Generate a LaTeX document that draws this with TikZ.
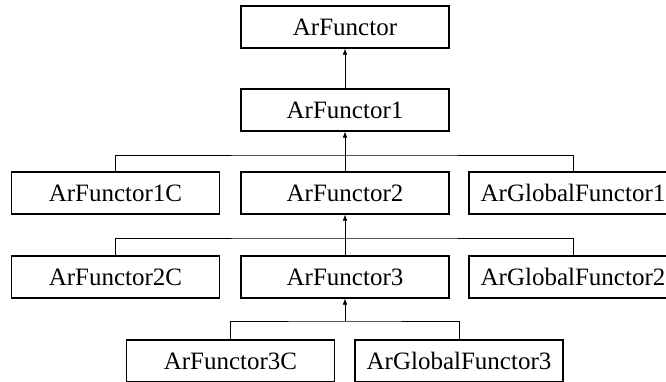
\documentclass[tikz,border=0pt]{standalone}
\usepackage{fontspec}
\setmainfont{Liberation Serif}
\usetikzlibrary{arrows.meta}

\begin{document}
\begin{tikzpicture}[x=1pt,y=-1pt,
    cls/.style={draw, line width=1.1pt, minimum width=208pt, minimum height=42pt,
                inner sep=0pt, font=\fontsize{25}{29}\selectfont},
    inherit/.style={-{Latex[length=6pt,width=4.5pt]}, line width=0.6pt},
    branch/.style={line width=0.6pt}]
    % Define the page
    \useasboundingbox (0,0) rectangle (666,381);

    % Define Coordinates
    \coordinate (busA) at (345,155);   % bus under ArFunctor1
    \coordinate (busB) at (345,238);   % bus under ArFunctor2
    \coordinate (busC) at (345,321);   % bus under ArFunctor3

    % 1. Draw the Classes
    \node[cls] (base) at (345,27)    {ArFunctor};
    \node[cls] (f1)   at (345,110)   {ArFunctor1};
    \node[cls] (f1c)  at (115.5,193) {ArFunctor1C};
    \node[cls] (f2)   at (345,193)   {ArFunctor2};
    \node[cls] (gf1)  at (573,193)   {ArGlobalFunctor1};
    \node[cls] (f2c)  at (115.5,277) {ArFunctor2C};
    \node[cls] (f3)   at (345,277)   {ArFunctor3};
    \node[cls] (gf2)  at (573,277)   {ArGlobalFunctor2};
    \node[cls] (f3c)  at (230.5,361) {ArFunctor3C};
    \node[cls] (gf3)  at (459,361)   {ArGlobalFunctor3};

    % 2. Draw the Inheritance
    \draw[inherit] (f1.north) -- (base.south);

    \draw[branch] (f1c.north) |- (busA) -| (gf1.north);
    \draw[inherit] (f2.north) -- (f1.south);

    \draw[branch] (f2c.north) |- (busB) -| (gf2.north);
    \draw[inherit] (f3.north) -- (f2.south);

    \draw[branch] (f3c.north) |- (busC) -| (gf3.north);
    \draw[inherit] (busC) -- (f3.south);

\end{tikzpicture}
\end{document}
